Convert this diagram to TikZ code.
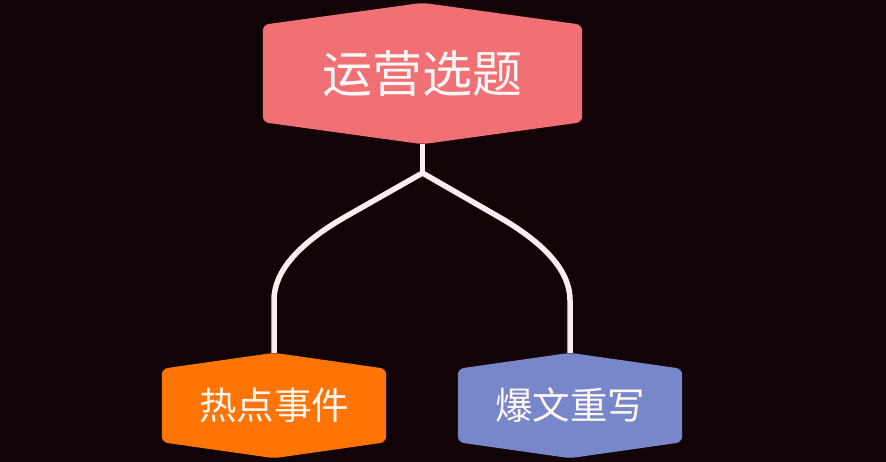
\documentclass[tikz,border=0pt]{standalone}
\usepackage{fontspec}
\newfontfamily\cjk{Noto Sans CJK SC}
\usetikzlibrary{calc}
\definecolor{bgc}{HTML}{120306}
\definecolor{topc}{HTML}{F07074}
\definecolor{hotc}{HTML}{FF7505}
\definecolor{rewc}{HTML}{7787C9}
\definecolor{linec}{HTML}{FCEEF0}
\definecolor{txtc}{HTML}{FFF6F6}
\tikzset{
  hexbox/.style={inner sep=0pt, text=txtc, font=\cjk},
  conn/.style={draw=linec, line width=5.5pt, line cap=butt, line join=round},
  bigtxt/.style={text=txtc, font=\cjk\fontsize{50}{54}\selectfont},
  smalltxt/.style={text=txtc, font=\cjk\fontsize{37.5}{40}\selectfont},
}
\newcommand{\hexfill}[3]{% node name, colour, apex offset
  \fill[#2, rounded corners=6pt]
    (#1.north west) -- ($(#1.north)+(0,-#3)$) -- (#1.north east)
    -- (#1.south east) -- ($(#1.south)+(0,#3)$) -- (#1.south west) -- cycle;
}
\begin{document}
\begin{tikzpicture}[x=1pt,y=-1pt]
\useasboundingbox (0,0) rectangle (886,462);
\fill[bgc] (0,0) rectangle (886,462);
% nodes (box holders)
\node[hexbox, minimum width=319pt, minimum height=97pt] (top) at (422.5,73.5) {};
\node[hexbox, minimum width=224pt, minimum height=73pt] (hot) at (274,405.5) {};
\node[hexbox, minimum width=224pt, minimum height=73pt] (rew) at (570,405.5) {};
% shapes
\hexfill{top}{topc}{22}
\hexfill{hot}{hotc}{16}
\hexfill{rew}{rewc}{16}
% texts
\node[bigtxt] (toptxt) at (top.center) {运营选题};
\node[smalltxt] (hottxt) at (hot.center) {热点事件};
\node[smalltxt] (rewtxt) at (rew.center) {爆文重写};
% connectors
\coordinate (split) at (422.5,173);
\coordinate (topS) at ($(top.south)+(0,22)$);
\coordinate (hotN) at ($(hot.north)+(0,-16)$);
\coordinate (rewN) at ($(rew.north)+(0,-16)$);
\draw[conn] (topS) -- (split);
\draw[conn] (split) -- (345,217) .. controls (297.7,244.3) and (274,272) .. (274,300) -- (hotN);
\draw[conn] (split) -- (499,217) .. controls (546.3,244.3) and (570,272) .. (570,300) -- (rewN);
\end{tikzpicture}
\end{document}
